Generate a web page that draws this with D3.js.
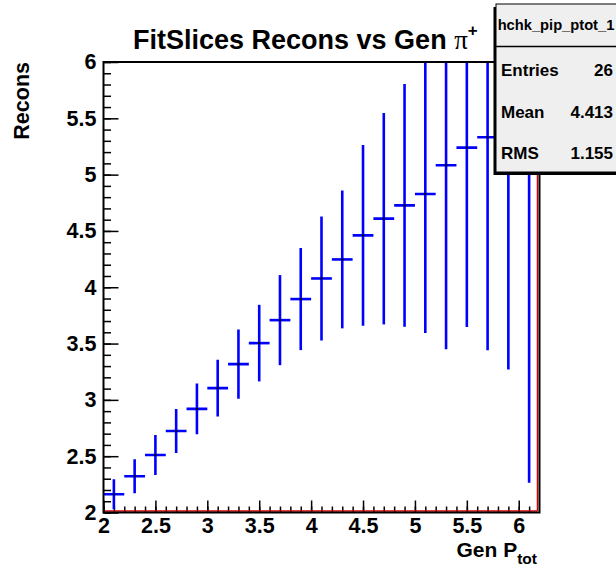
<!DOCTYPE html>
<html lang="en">

<head>
  <meta charset="UTF-8">
  <title>FitSlices Recons vs Gen</title>
  <script src="https://d3js.org/d3.v7.min.js"></script>
  <style>
    body { margin: 0; background: #fff; }
    text { font-family: "Liberation Sans", Arial, Helvetica, sans-serif; font-weight: bold; }
  </style>
</head>

<body>
  <div class="canvas"></div>
  <script>
    const width = 616;
    const height = 568;

    // bin centres of the slices (Gen Ptot) and fitted means with errors
    const genP = [2.1, 2.3, 2.5, 2.7, 2.9, 3.1, 3.3, 3.5, 3.7, 3.9, 4.1, 4.3, 4.5, 4.7, 4.9, 5.1, 5.3, 5.5, 5.7, 5.9, 6.1];
    const recons = [2.162, 2.322, 2.511, 2.724, 2.920, 3.104, 3.317, 3.504, 3.708, 3.895, 4.078, 4.247, 4.461, 4.609, 4.727, 4.828, 5.083, 5.240, 5.332, 5.45, 5.15];
    const errs = [0.133, 0.151, 0.178, 0.196, 0.226, 0.252, 0.308, 0.340, 0.400, 0.453, 0.551, 0.612, 0.803, 0.939, 1.078, 1.235, 1.633, 1.594, 1.892, 2.18, 2.885];
    const binWidth = 0.2;

    const xTicks = [2, 2.5, 3, 3.5, 4, 4.5, 5, 5.5, 6];
    const yTicks = [2, 2.5, 3, 3.5, 4, 4.5, 5, 5.5, 6];
    const statLabels = ['Entries', 'Mean', 'RMS'];
    const statValues = ['26', '4.413', '1.155'];

    const [pl, pr, pt, pb] = [103.5, 539.5, 62, 512.5];

    const x = d3.scaleLinear().domain([2, 6.2]).range([pl, pr]);
    const y = d3.scaleLinear().domain([2, 6]).range([pb, pt]);

    const svg = d3.select('.canvas')
      .append('svg')
      .attr('width', width)
      .attr('height', height)

    svg.append('defs').append('clipPath').attr('id', 'plot')
      .append('rect')
      .attr('x', pl).attr('y', pt)
      .attr('width', pr - pl).attr('height', pb - pt)

    // minor ticks
    const minorX = d3.range(20, 62).map(d => d / 10);
    const minorY = d3.range(20, 61).map(d => d / 10);

    svg.append('g')
      .attr('transform', `translate(0, ${pb})`)
      .call(d3.axisBottom(x).tickValues(minorX).tickSize(-6).tickFormat(''))
    svg.append('g')
      .attr('transform', `translate(${pl}, 0)`)
      .call(d3.axisLeft(y).tickValues(minorY).tickSize(-7.5).tickFormat(''))

    // major ticks with labels
    svg.append('g')
      .attr('transform', `translate(0, ${pb})`)
      .call(d3.axisBottom(x).tickValues(xTicks).tickSize(-12).tickPadding(5).tickFormat(d3.format('')))
    svg.append('g')
      .attr('transform', `translate(${pl}, 0)`)
      .call(d3.axisLeft(y).tickValues(yTicks).tickSize(-15).tickPadding(7).tickFormat(d3.format('')))

    svg.selectAll('.domain').remove()
    svg.selectAll('.tick line').attr('stroke', '#000').attr('stroke-width', 1.5)
    svg.selectAll('.tick text')
      .attr('font-size', 21.5)
      .attr('font-family', '"Liberation Sans", Arial, sans-serif')
      .attr('font-weight', 'bold')
      .attr('fill', '#000')

    // error bars
    const graph = svg.append('g').attr('clip-path', 'url(#plot)')
    const pts = genP.map((g, i) => ({ g, v: recons[i], e: errs[i] }))

    graph.selectAll('line.ev').data(pts).enter()
      .append('line')
      .attr('x1', d => x(d.g)).attr('x2', d => x(d.g))
      .attr('y1', d => y(d.v - d.e)).attr('y2', d => y(d.v + d.e))
      .attr('stroke', '#0000ff').attr('stroke-width', 2.6)

    graph.selectAll('line.eh').data(pts).enter()
      .append('line')
      .attr('x1', d => x(d.g - binWidth / 2)).attr('x2', d => x(d.g + binWidth / 2))
      .attr('y1', d => y(d.v)).attr('y2', d => y(d.v))
      .attr('stroke', '#0000ff').attr('stroke-width', 2.6)

    graph.selectAll('rect.dot').data(pts).enter()
      .append('rect')
      .attr('x', d => x(d.g) - 1).attr('y', d => y(d.v) - 1)
      .attr('width', 2).attr('height', 2)
      .attr('fill', '#000')

    // frame
    svg.append('line').attr('x1', pr - 2).attr('x2', pr - 2).attr('y1', pt).attr('y2', pb - 1.5)
      .attr('stroke', '#d00000').attr('stroke-width', 1.5)
    svg.append('line').attr('x1', pl).attr('x2', pr - 2).attr('y1', pb - 1.5).attr('y2', pb - 1.5)
      .attr('stroke', '#d00000').attr('stroke-width', 1.5)
    svg.append('rect')
      .attr('x', pl).attr('y', pt)
      .attr('width', pr - pl).attr('height', pb - pt)
      .attr('fill', 'none').attr('stroke', '#000').attr('stroke-width', 2)

    // title
    const title = svg.append('text')
      .attr('x', 133).attr('y', 49)
      .attr('font-size', 27)
    title.append('tspan').text('FitSlices Recons vs Gen ')
    title.append('tspan')
      .attr('font-family', '"Liberation Serif", "DejaVu Serif", serif')
      .attr('font-weight', 'normal')
      .text('π')
    title.append('tspan').attr('dy', -13).attr('font-size', 17).text('+')

    // axis titles
    svg.append('text')
      .attr('transform', `translate(29, 62) rotate(-90)`)
      .attr('text-anchor', 'end')
      .attr('font-size', 21.5)
      .text('Recons')

    const xt = svg.append('text')
      .attr('x', 537).attr('y', 557)
      .attr('text-anchor', 'end')
      .attr('font-size', 21)
    xt.append('tspan').text('Gen P')
    xt.append('tspan').attr('dy', 7).attr('font-size', 15.5).text('tot')

    // stats box
    const box = svg.append('g')
    box.append('rect')
      .attr('x', 493.5).attr('y', 7).attr('width', 130).attr('height', 168)
      .attr('fill', '#000')
    box.append('rect')
      .attr('x', 496).attr('y', 4).attr('width', 130).attr('height', 168)
      .attr('fill', '#efefef').attr('stroke', '#000').attr('stroke-width', 1)
    box.append('line')
      .attr('x1', 496).attr('x2', 616).attr('y1', 46.5).attr('y2', 46.5)
      .attr('stroke', '#000').attr('stroke-width', 1.5)
    box.append('text')
      .attr('x', 556).attr('y', 30).attr('text-anchor', 'middle')
      .attr('font-size', 14.7)
      .text('hchk_pip_ptot_1')
    box.selectAll('text.lab').data(statLabels).enter()
      .append('text')
      .attr('x', 501).attr('y', (d, i) => 76 + i * 41.7)
      .attr('font-size', 17)
      .text(d => d)
    box.selectAll('text.val').data(statValues).enter()
      .append('text')
      .attr('x', 613).attr('y', (d, i) => 76 + i * 41.7)
      .attr('text-anchor', 'end')
      .attr('font-size', 17)
      .text(d => d)
  </script>

</body>

</html>
